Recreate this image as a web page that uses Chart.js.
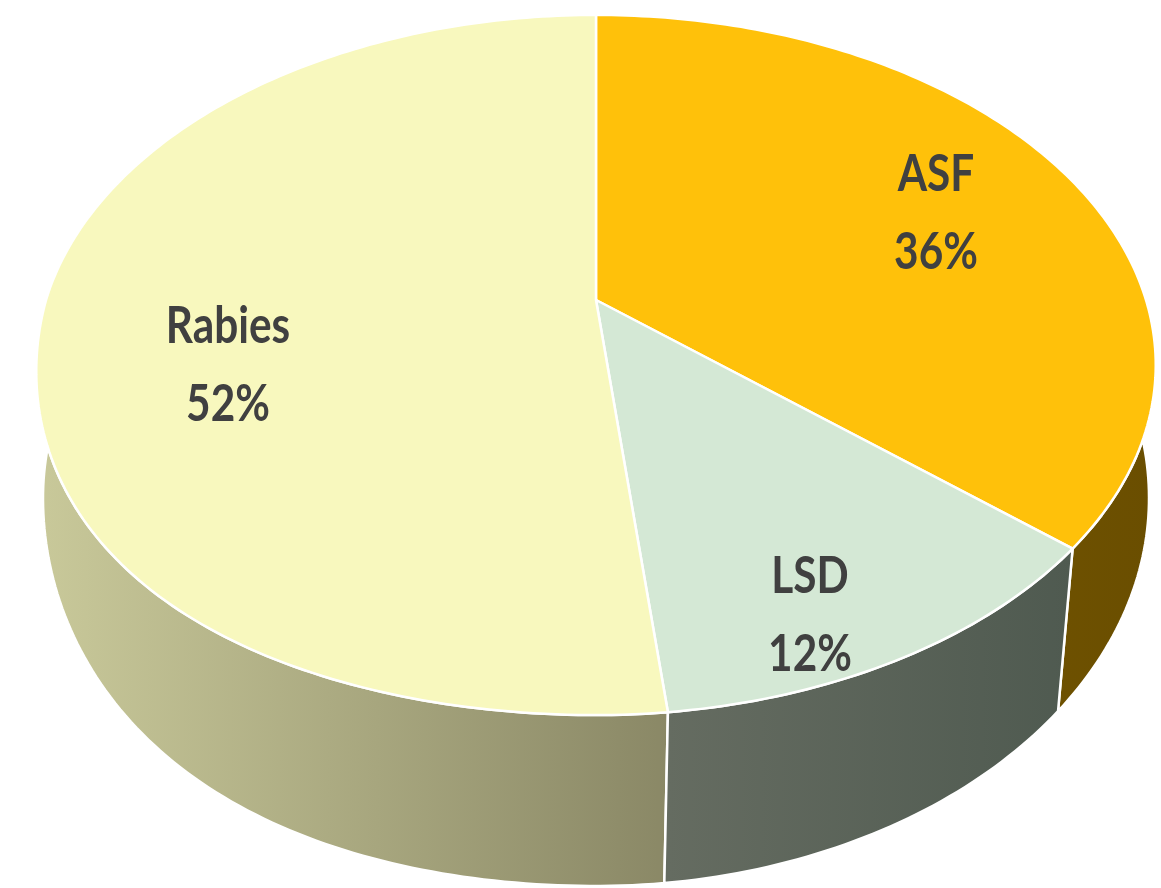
<!DOCTYPE html>
<html>
<head>
<meta charset="utf-8">
<title>Disease share</title>
<script src="https://cdn.jsdelivr.net/npm/chart.js@4"></script>
<style>
  html, body { margin: 0; padding: 0; background: #fff; }
  canvas { display: block; }
</style>
</head>
<body>
<canvas id="pie" width="1161" height="888"></canvas>
<script>
// values (edges sit slightly off the rounded labels)
const categories = ['ASF', 'LSD', 'Rabies'];
const shares = [36.2, 12.1, 51.7];
const topColors = ['#FFC10A', '#D4E8D5', '#F8F8BE'];
const wallColorsLeft = ['#7E5D00', '#656C61', '#C9C99A'];
const wallColorsRight = ['#6A4E00', '#4F5A50', '#8A8866'];

// label centres, canvas pixels
const labelSpots = [[936, 214], [810, 616], [228, 366]];

// perspective of the disc: a circle seen from above and slightly in front
const view = { cx: 596, cy: 300, a: 550, b: 338, p: -0.1857 };
const base = { cx: 596, cy: 498, rx: 553, ry: 388, warp: 0.16 };
const sag = 36; // the picture's front-left rim hangs a little lower

function sagAt(u, v) {
  return u < 0 && v > 0 ? sag * u * u * v : 0;
}

function project(angle) {
  const u = Math.cos(angle), v = Math.sin(angle);
  const w = 1 + view.p * v;
  return { x: view.cx + view.a * u / w, y: view.cy + view.b * v / w + sagAt(u, v) };
}

function projectBase(angle) {
  const t = angle - base.warp * Math.cos(angle);
  const u = Math.cos(t), v = Math.sin(t);
  return { x: base.cx + base.rx * u, y: base.cy + base.ry * v + sagAt(u, v) };
}

function angleSteps(start, end) {
  const n = Math.max(8, Math.ceil((end - start) * 60));
  const out = [];
  for (let i = 0; i <= n; i++) out.push(start + (end - start) * i / n);
  return out;
}

const perspectivePie = {
  id: 'perspectivePie',
  beforeDatasetsDraw(chart) {
    const ctx = chart.ctx;
    const arcs = chart.getDatasetMeta(0).data;
    ctx.lineJoin = 'round';

    // side walls first, the tops cover whatever faces away
    [0, 2, 1].forEach((i) => {
      const steps = angleSteps(arcs[i].startAngle, arcs[i].endAngle);
      const rim = steps.map(project);
      const xs = rim.map((p) => p.x);
      const g = ctx.createLinearGradient(Math.min(...xs), 0, Math.max(...xs), 0);
      g.addColorStop(0, wallColorsLeft[i]);
      g.addColorStop(1, wallColorsRight[i]);
      ctx.beginPath();
      rim.forEach((p, k) => (k ? ctx.lineTo(p.x, p.y) : ctx.moveTo(p.x, p.y)));
      steps.slice().reverse().forEach((a) => {
        const q = projectBase(a);
        ctx.lineTo(q.x, q.y);
      });
      ctx.closePath();
      ctx.fillStyle = g;
      ctx.fill();
      ctx.strokeStyle = '#fff';
      ctx.lineWidth = 2.5;
      ctx.stroke();
    });

    arcs.forEach((arc) => {
      ctx.beginPath();
      ctx.moveTo(view.cx, view.cy);
      angleSteps(arc.startAngle, arc.endAngle).map(project).forEach((p) => ctx.lineTo(p.x, p.y));
      ctx.closePath();
      ctx.fillStyle = arc.options.backgroundColor;
      ctx.fill();
      ctx.strokeStyle = '#fff';
      ctx.lineWidth = 2.5;
      ctx.stroke();
    });

    ctx.fillStyle = '#404040';
    ctx.textAlign = 'center';
    ctx.textBaseline = 'middle';
    ctx.font = 'bold 51px Lato';
    categories.forEach((name, i) => {
      ctx.save();
      ctx.translate(labelSpots[i][0], labelSpots[i][1]);
      ctx.scale(0.83, 1);
      ctx.fillText(name, 0, -39);
      ctx.fillText(Math.round(shares[i]) + '%', 0, 39);
      ctx.restore();
    });

    return false; // arcs are done, skip the flat pie
  }
};

new Chart(document.getElementById('pie'), {
  type: 'pie',
  data: {
    labels: categories,
    datasets: [{ data: shares, backgroundColor: topColors, borderWidth: 0 }]
  },
  options: {
    responsive: false,
    animation: false,
    devicePixelRatio: 1,
    plugins: { legend: { display: false }, tooltip: { enabled: false } }
  },
  plugins: [perspectivePie]
});
</script>
</body>
</html>
